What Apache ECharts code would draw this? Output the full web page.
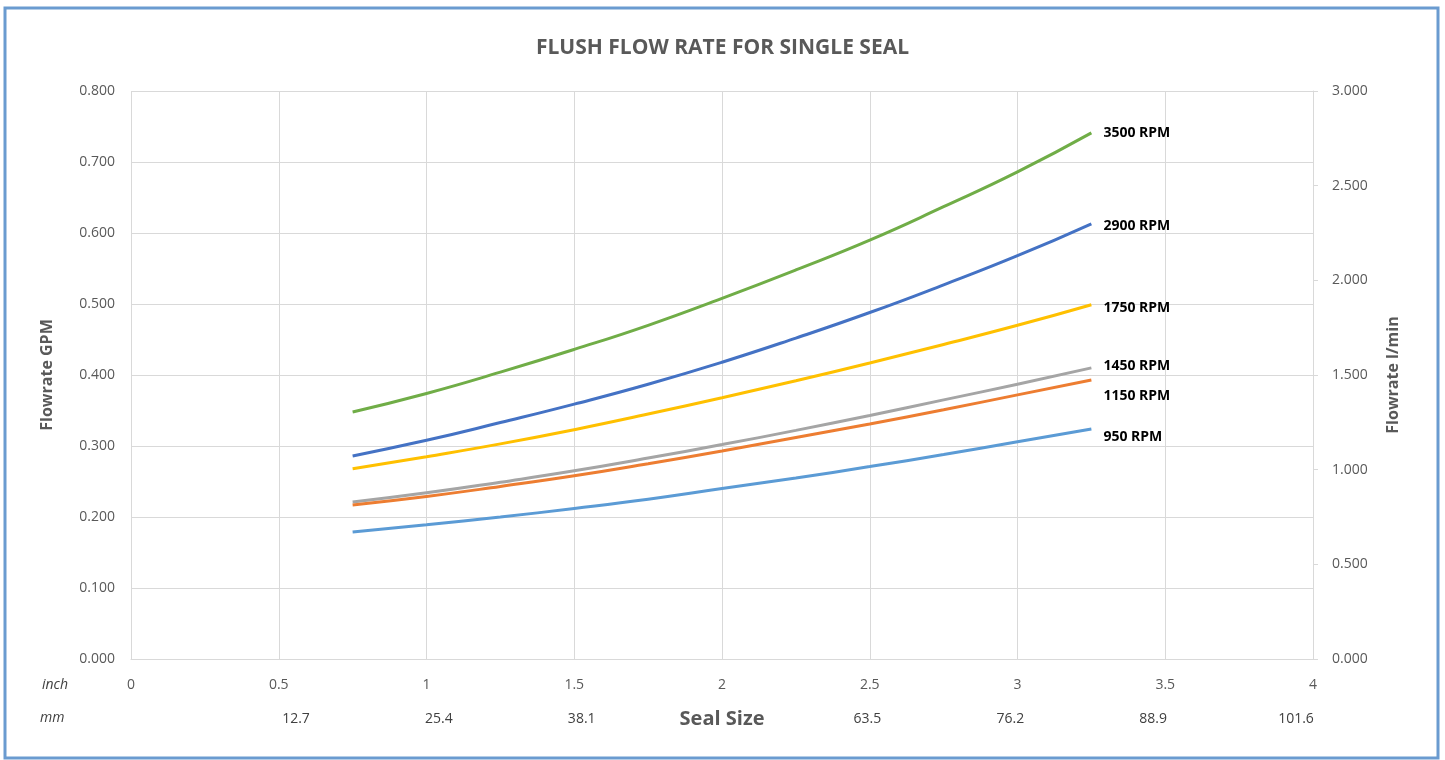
<!DOCTYPE html>
<html>
<head>
<meta charset="utf-8">
<script src="https://cdn.jsdelivr.net/npm/echarts@6/dist/echarts.min.js"></script>
<style>
html,body{margin:0;padding:0;background:#fff;}
#chart{width:1445px;height:760px;}
</style>
</head>
<body>
<div id="chart"></div>
<script>
var sealSizes = [0.75, 1.0, 1.25, 1.5, 1.75, 2.0, 2.25, 2.5, 2.75, 3.0, 3.25];
var rpm3500 = [0.348, 0.374, 0.404, 0.436, 0.470, 0.508, 0.548, 0.590, 0.637, 0.686, 0.741];
var rpm2900 = [0.286, 0.308, 0.333, 0.359, 0.387, 0.418, 0.452, 0.488, 0.527, 0.568, 0.613];
var rpm1750 = [0.268, 0.285, 0.303, 0.323, 0.345, 0.368, 0.392, 0.417, 0.443, 0.470, 0.499];
var rpm1450 = [0.221, 0.234, 0.249, 0.265, 0.283, 0.302, 0.322, 0.343, 0.365, 0.387, 0.410];
var rpm1150 = [0.217, 0.229, 0.243, 0.258, 0.275, 0.293, 0.312, 0.331, 0.351, 0.372, 0.393];
var rpm950  = [0.179, 0.189, 0.200, 0.212, 0.225, 0.240, 0.255, 0.271, 0.288, 0.306, 0.324];
var mmTicks = [12.7, 25.4, 38.1, 63.5, 76.2, 88.9, 101.6];

var FONT = '"Open Sans", "Liberation Sans", sans-serif';
var GRAY = '#595959';

function pairs(vals) {
  return sealSizes.map(function (x, i) { return [x, vals[i]]; });
}

var seriesDefs = [
  { name: '3500 RPM', data: rpm3500, color: '#70AD47', off: [0, 0] },
  { name: '2900 RPM', data: rpm2900, color: '#4472C4', off: [0, 2] },
  { name: '1750 RPM', data: rpm1750, color: '#FFC000', off: [0, 3] },
  { name: '1450 RPM', data: rpm1450, color: '#A5A5A5', off: [0, -2] },
  { name: '1150 RPM', data: rpm1150, color: '#ED7D31', off: [0, 16] },
  { name: '950 RPM',  data: rpm950,  color: '#5B9BD5', off: [0, 8] }
];

var chart = echarts.init(document.getElementById('chart'), null, { renderer: 'canvas' });
chart.setOption({
  backgroundColor: '#ffffff',
  animation: false,
  title: {
    text: 'FLUSH FLOW RATE FOR SINGLE SEAL',
    left: 'center',
    top: 33,
    textStyle: { fontFamily: FONT, fontSize: 21, fontWeight: 'bold', color: GRAY }
  },
  graphic: [
    { type: 'rect', shape: { x: 5, y: 8, width: 1433, height: 750 },
      style: { fill: 'none', stroke: '#6A9BD0', lineWidth: 3 }, silent: true },
    { type: 'text', left: 42, top: 678,
      style: { text: 'inch', font: 'italic 14px ' + FONT, fill: '#404040' } },
    { type: 'text', left: 40, top: 711,
      style: { text: 'mm', font: 'italic 14px ' + FONT, fill: '#404040' } }
  ],
  grid: { left: 131, right: 132, top: 91, bottom: 101, containLabel: false },
  xAxis: [
    {
      type: 'value', min: 0, max: 4, interval: 0.5, position: 'bottom',
      axisLine: { show: true, onZero: false, lineStyle: { color: '#D9D9D9', width: 1 } },
      axisTick: { show: false },
      axisLabel: { margin: 19, color: GRAY, fontFamily: FONT, fontSize: 14 },
      splitLine: { show: true, lineStyle: { color: '#D9D9D9', width: 1 } }
    },
    {
      type: 'value', min: -1.968, max: 103.11, position: 'bottom',
      name: 'Seal Size', nameLocation: 'middle', nameGap: 50, nameMoveOverlap: false,
      nameTextStyle: { fontFamily: FONT, fontSize: 20, fontWeight: 'bold', color: GRAY },
      axisLine: { show: false, onZero: false }, axisTick: { show: false },
      splitLine: { show: false },
      axisLabel: {
        customValues: mmTicks, margin: 53, color: '#404040', fontFamily: FONT, fontSize: 14,
        formatter: function (v) { return v.toFixed(1); }
      }
    }
  ],
  yAxis: [
    {
      type: 'value', min: 0, max: 0.8, interval: 0.1, position: 'left',
      name: 'Flowrate GPM', nameLocation: 'middle', nameGap: 76,
      nameTextStyle: { fontFamily: FONT, fontSize: 16, fontWeight: 'bold', color: GRAY },
      axisLine: { show: false, onZero: false }, axisTick: { show: false },
      axisLabel: { margin: 16, color: GRAY, fontFamily: FONT, fontSize: 14,
        formatter: function (v) { return v.toFixed(3); } },
      splitLine: { show: true, lineStyle: { color: '#D9D9D9', width: 1 } }
    },
    {
      type: 'value', min: 0, max: 3, interval: 0.5, position: 'right',
      name: 'Flowrate l/min', nameLocation: 'middle', nameGap: 72,
      nameTextStyle: { fontFamily: FONT, fontSize: 16, fontWeight: 'bold', color: GRAY },
      axisLine: { show: true, onZero: false, lineStyle: { color: '#D9D9D9', width: 1 } },
      axisTick: { show: true, length: 5, lineStyle: { color: '#D9D9D9' } },
      axisLabel: { margin: 19, color: GRAY, fontFamily: FONT, fontSize: 14,
        formatter: function (v) { return v.toFixed(3); } },
      splitLine: { show: false }
    }
  ],
  series: seriesDefs.map(function (s) {
    return {
      name: s.name, type: 'line', xAxisIndex: 0, yAxisIndex: 0,
      data: pairs(s.data), smooth: true, showSymbol: false, symbol: 'none',
      lineStyle: { color: s.color, width: 3 },
      itemStyle: { color: s.color },
      endLabel: {
        show: true, formatter: '{a}', distance: 12, offset: s.off,
        color: '#000', fontFamily: FONT, fontSize: 14, fontWeight: 'bold'
      }
    };
  })
});
</script>
</body>
</html>
